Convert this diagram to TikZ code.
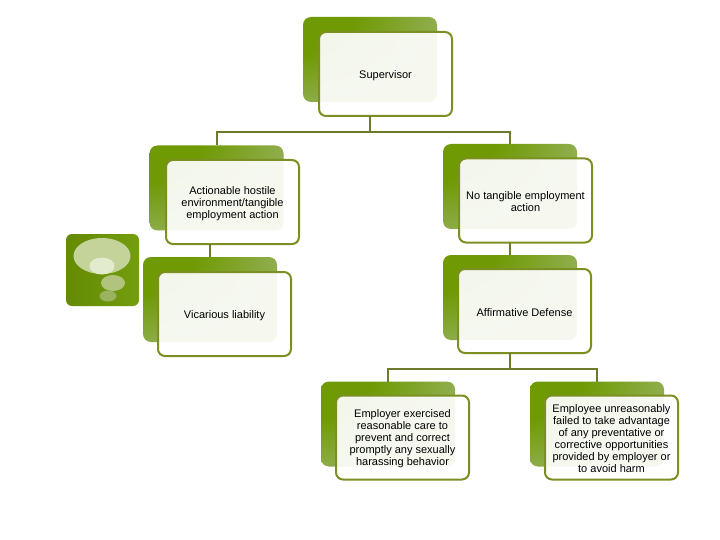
\documentclass[tikz,border=0pt]{standalone}
\usepackage{fontspec}
\setmainfont{Liberation Sans}
\usetikzlibrary{shapes.geometric}
\definecolor{gdark}{HTML}{5C7F0C}
\definecolor{gmid}{HTML}{6F9A04}
\definecolor{glight}{HTML}{8FAD4C}
\definecolor{frameC}{HTML}{7B8F22}
\definecolor{linkC}{HTML}{6C7A2C}
\definecolor{bubA}{HTML}{C3D39A}
\definecolor{bubB}{HTML}{E3EBCF}
\definecolor{bubC}{HTML}{B0C47E}
\definecolor{bubD}{HTML}{9AB35E}
\pgfdeclareradialshading{cornerglow}{\pgfpoint{-42bp}{38bp}}{color(0bp)=(gdark); color(14bp)=(gmid); color(28bp)=(gmid); color(50bp)=(glight); color(130bp)=(glight)}
\tikzset{
  backbox/.style={rectangle, rounded corners=8pt, inner sep=0pt, outer sep=0pt,
    minimum width=134pt, minimum height=85pt, shading=cornerglow},
  frontbox/.style={rectangle, rounded corners=7pt, inner sep=0pt, outer sep=0pt,
    minimum width=133pt, minimum height=84pt, draw=frameC, line width=2pt, fill=white, fill opacity=.92},
  boxtext/.style={inner sep=0pt, align=center, font=\fontsize{11}{12}\selectfont, yshift=-1.5pt},
  linkline/.style={draw=linkC, line width=2pt},
  bubble/.style={ellipse, inner sep=0pt, outer sep=0pt}
}
\begin{document}
\begin{tikzpicture}[x=1pt,y=-1pt]
\useasboundingbox (0,0) rectangle (720,540);
\fill[white] (0,0) rectangle (720,540);
% back panels
\node[backbox] (supb) at (370,59.5) {};
\node[backbox] (actb) at (216.5,188) {};
\node[backbox] (vicb) at (210,299.5) {};
\node[backbox] (notb) at (510,186.5) {};
\node[backbox] (affb) at (510,297.5) {};
\node[backbox] (erb) at (388,424) {};
\node[backbox] (eeb) at (597,424) {};
% front panels
\node[frontbox] (sup) at (385.5,74) {};
\node[frontbox] (act) at (232.5,202) {};
\node[frontbox] (vic) at (224.5,314) {};
\node[frontbox] (not) at (525.5,200.5) {};
\node[frontbox] (aff) at (524.5,311) {};
\node[frontbox] (er) at (402.5,437.5) {};
\node[frontbox] (ee) at (611.5,437.5) {};
% texts
\node[boxtext] (supt) at (sup.center) {Supervisor};
\node[boxtext] (actt) at (act.center) {Actionable hostile\\environment/tangible\\employment action};
\node[boxtext] (vict) at (vic.center) {Vicarious liability};
\node[boxtext] (nott) at (not.center) {No tangible employment\\action};
\node[boxtext] (afft) at (aff.center) {Affirmative Defense};
\node[boxtext] (ert) at (er.center) {Employer exercised\\reasonable care to\\prevent and correct\\promptly any sexually\\harassing behavior};
\node[boxtext] (eet) at (ee.center) {Employee unreasonably\\failed to take advantage\\of any preventative or\\corrective opportunities\\provided by employer or\\to avoid harm};
% connectors
\coordinate (j1) at (370,132);
\coordinate (j2) at (509,369);
\draw[linkline] (supb.south |- sup.south) -- (j1);
\draw[linkline] (j1) -| (actb.north);
\draw[linkline] (j1) -| (notb.north);
\draw[linkline] (vicb.north |- act.south) -- (vicb.north);
\draw[linkline] (notb.south |- not.south) -- (affb.north);
\draw[linkline] (affb.south |- aff.south) -- (affb.south |- j2);
\draw[linkline] (affb.south |- j2) -| (erb.north);
\draw[linkline] (affb.south |- j2) -| (eeb.north);
% decorative icon
\node[rectangle, rounded corners=6pt, minimum width=73pt, minimum height=72pt, inner sep=0pt, left color=gmid!90!black, right color=gmid!85!glight] (icon) at (102.5,270) {};
\node[bubble, fill=bubA, minimum width=57pt, minimum height=36pt] (b1) at (102,256) {};
\node[bubble, fill=bubB, minimum width=25pt, minimum height=17pt] (b2) at (102,266) {};
\node[bubble, fill=bubC, minimum width=24pt, minimum height=16pt] (b3) at (113,283) {};
\node[bubble, fill=bubD, minimum width=17pt, minimum height=11pt] (b4) at (108,296) {};
\end{tikzpicture}
\end{document}
